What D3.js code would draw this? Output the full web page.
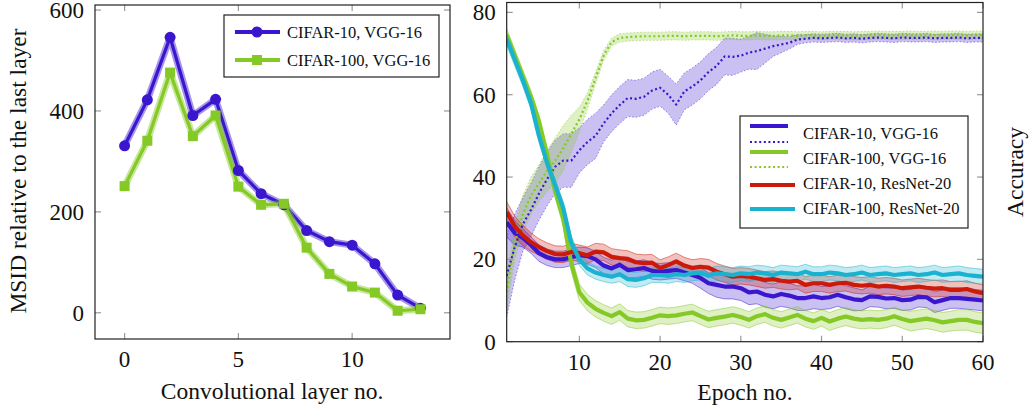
<!DOCTYPE html>
<meta charset="utf-8">
<title>MSID and accuracy</title>
<style>
body { margin: 0; background: #fff; }
svg text { font-family: "Liberation Serif", "Times New Roman", serif; fill: #111; }
.frame { fill: none; stroke: #222; stroke-width: 1.2px; }
.tick { stroke: #999; stroke-width: 1.2px; }
</style>
<svg width="1032" height="413"></svg>
<script src="https://d3js.org/d3.v7.min.js"></script>
<script>
// ---- left panel: MSID per conv layer ----
var layers = [0,1,2,3,4,5,6,7,8,9,10,11,12,13]
var msidC10 = [331,422,546,391,423,282,236,214,163,141,134,97,35,9]
var msidC100 = [251,341,476,350,391,250,214,216,129,77,52,40,4,7]
var leftXTicks = [0,5,10]
var leftYTicks = [0,200,400,600]

// ---- right panel: per-epoch curves (mean, half band width) ----
var epochs = d3.range(1, 61)
var c10vgg = [29,26.4,25.2,23.5,21.5,20.5,20,20,20.5,21,20.8,20,18.5,17.8,18.7,17.4,17.6,17.9,17.2,17,17.2,17.4,16.8,16.2,15.5,14.2,13.8,13.4,13.4,13,12,12.2,11.4,11,11.6,11.2,10.6,10.6,11,10.6,10.8,11.4,10.8,10.3,10.1,11,10.9,10.5,10.6,10.1,10.2,10.9,10.8,9.6,10.1,10.6,10.6,10.4,10.2,10]
var c10vggSd = [3.5,3,2.2,2,2,2,2,2,2,2,2,2,2,2,2,2,2,2,2,2,2,2,2,2,2.5,2.5,3,3,3,3,3,3,3,3,3,3,3,3,3,2.8,2.8,2.8,2.8,2.8,2.5,2.5,2.5,2.5,2.5,2.5,2.5,2.5,2.5,2.5,2.5,2.5,2.5,2.5,2.5,2.5]
var c10vggAcc = [16,23,28.5,32,36,39.5,42.5,44,44,46.5,48.5,50,53,55.5,57.5,59.2,59,59.5,61,61.7,60,57.6,60.8,62,63.5,65.5,67,69.3,69.2,69.5,70.2,70.6,71.2,71.8,72.2,72.6,73.4,73.6,73.8,73.7,73.8,73.9,73.7,73.8,73.6,73.8,73.9,73.8,73.7,73.9,73.8,73.8,73.9,73.7,73.8,73.8,73.9,73.7,73.8,73.8]
var c10vggAccSd = [10,8,6.5,6.5,6.5,6.5,6.5,6.5,6.5,5.5,5.5,5.5,4.5,4.5,4.5,4.5,4.5,4.5,4.5,4.5,4.5,5,4.5,4.5,4.5,4.5,4.5,4.5,4.5,4,4,4.5,3.5,2.5,2,1.5,1.2,1,1,1,1,1,1,1,1,1,1,1,1,1,1,1,1,1,1,1,1,1,1,1]
var c100vgg = [74.5,69.5,64.5,59.5,53.5,45.5,36.5,30,19,12,9.5,8,7,6.2,7.2,5.6,5.2,5.3,5.8,6.4,6.2,6.4,6.8,7.1,6.2,5.4,5.8,6.1,6.5,6,5.3,6.2,6.7,5.8,5.3,5.9,6.5,5.6,5,5.8,4.9,5.6,6.1,5.6,5.3,5.5,5.3,5.6,6.2,5.5,5,5.3,5.6,5.2,4.7,5,5.3,5.3,4.8,4.5]
var c100vggSd = [1.5,1.5,1.5,1.5,1.5,1.5,1.5,2,2,2,2,2,2,2,2,2,2,2,2,2,2,2,2,2,2,2,2,2,2,2,2,2,2,2,2,2,2,2,2,2,2.2,2.2,2.2,2.2,2.2,2.2,2.2,2.2,2.2,2.2,2.4,2.4,2.4,2.4,2.4,2.4,2.5,2.5,2.5,2.5]
var c100vggAcc = [12,24,31,35.5,38.5,41.5,44,47,50.5,54,58.5,64,69.5,72.8,73.8,74,74.1,74.2,74.2,74.2,74.3,74.3,74.2,74.3,74.3,74.3,74.2,74.3,74.4,74.3,74.3,74.4,74.3,74.3,74.4,74.4,74.3,74.4,74.4,74.3,74.4,74.4,74.4,74.3,74.4,74.4,74.5,74.4,74.4,74.4,74.5,74.4,74.4,74.5,74.4,74.5,74.5,74.4,74.5,74.5]
var c100vggAccSd = [4,4,4.5,4.5,4.5,5,5.5,5.5,4.5,3,2,1.5,1.2,1,1,1,1,1,1,1,1,1,1,1,1,1,1,1,1,1,1,1,1,1,1,1,1,1,1,1,1,1,1,1,1,1,1,1,1,1,1,1,1,1,1,1,1,1,1,1]
var c10res = [31.5,28,25.8,24.2,23,22,21.3,21.2,21.8,21.5,21,21.9,21.7,20.6,20.3,20.1,19.3,19.1,19.2,17.9,18.6,19.5,18.5,17.9,18.2,18,17,16.4,15.8,16,15.8,15.4,15,15.2,14.8,14.6,14.8,13.8,14.2,14.2,13.8,14.2,14.3,13.8,13.6,13.8,13.4,13.6,13.4,13,13.2,13.4,13.1,12.9,13,12.6,12.6,12.8,12.2,11.8]
var c10resSd = [2.5,2.5,2.5,2.2,2,2,2,2,2,2,2,2,2,2,2,2,2,2,2,2,2,2,2,2,2,2,2,2,2,2,2,2,2,2,2,2,2,2,2,2,2,2,2,2,2,2,2,2,2,2,2,2,2,2,2,2,2,2,2,2]
var c100res = [73.5,68.5,63.5,58,50,43.5,38,32.5,24,20,17.8,16.8,16.2,15.8,16.4,15.2,15,15.4,16.2,16.2,16,16.4,16.2,16.6,16.8,16,16.6,16.4,16.2,16.6,16.4,16.8,16.6,16.2,16.8,16.6,16.4,17,16.4,16.4,16.8,16.6,16.2,16.4,16.8,16.2,16.4,16.6,16.2,16.4,16.6,16.2,16.4,16.8,16.2,16.4,16.6,16.2,16,15.8]
var c100resSd = [1.5,1.5,1.5,1.5,1.5,1.5,1.5,1.5,1.5,1.5,1.6,1.6,1.6,1.6,1.8,1.8,1.8,1.8,1.8,1.8,1.8,1.8,1.8,1.8,1.8,1.8,1.8,1.8,1.8,1.8,1.8,1.8,1.8,1.8,1.8,1.8,1.8,1.8,1.8,1.8,1.8,1.8,1.8,1.8,1.8,1.8,1.8,1.8,1.8,1.8,1.8,1.8,1.8,1.8,1.8,1.8,1.8,1.8,1.8,1.8]
var rightXTicks = [10,20,30,40,50,60]
var rightYTicks = [0,20,40,60,80]

var BLUE = "#3a16cf", GREEN = "#84c926", RED = "#cc1a0a", CYAN = "#1ab3cf"

var svg = d3.select("svg")

function frame(g, x0, x1, y0, y1, xs, ys, xt, yt) {
	// tick marks inside the box on all four sides, pgfplots style
	xt.forEach(function(t) {
		g.append("line").attr("class", "tick").attr("x1", xs(t)).attr("x2", xs(t)).attr("y1", y1).attr("y2", y1 - 6)
		g.append("line").attr("class", "tick").attr("x1", xs(t)).attr("x2", xs(t)).attr("y1", y0).attr("y2", y0 + 6)
		g.append("text").attr("x", xs(t)).attr("y", y1 + 28).attr("text-anchor", "middle").attr("font-size", 23).text(t)
	})
	yt.forEach(function(t) {
		g.append("line").attr("class", "tick").attr("x1", x0).attr("x2", x0 + 6).attr("y1", ys(t)).attr("y2", ys(t))
		g.append("line").attr("class", "tick").attr("x1", x1).attr("x2", x1 - 6).attr("y1", ys(t)).attr("y2", ys(t))
		g.append("text").attr("x", x0 - 11).attr("y", ys(t)).attr("dy", "0.34em").attr("text-anchor", "end").attr("font-size", 23).text(t)
	})
	g.append("rect").attr("class", "frame").attr("x", x0).attr("y", y0).attr("width", x1 - x0).attr("height", y1 - y0)
}

// ===== left panel =====
var lx = d3.scaleLinear().domain([-1.3, 14.3]).range([95, 450])
var ly = d3.scaleLinear().domain([-52, 610]).range([339, 5])
var left = svg.append("g")

var lline = function(vals) {
	return d3.line().x(function(d, i) { return lx(layers[i]) }).y(function(d) { return ly(d) })(vals)
}

;[[msidC10, BLUE], [msidC100, GREEN]].forEach(function(s) {
	left.append("path").attr("d", lline(s[0])).attr("fill", "none").attr("stroke", s[1]).attr("stroke-opacity", 0.45).attr("stroke-width", 7).attr("stroke-linejoin", "round")
	left.append("path").attr("d", lline(s[0])).attr("fill", "none").attr("stroke", s[1]).attr("stroke-width", 3.2).attr("stroke-linejoin", "round")
})
left.selectAll("circle.m").data(msidC10).enter().append("circle")
	.attr("cx", function(d, i) { return lx(layers[i]) }).attr("cy", function(d) { return ly(d) })
	.attr("r", 5.5).attr("fill", BLUE)
left.selectAll("rect.m").data(msidC100).enter().append("rect")
	.attr("x", function(d, i) { return lx(layers[i]) - 5 }).attr("y", function(d) { return ly(d) - 5 })
	.attr("width", 10).attr("height", 10).attr("fill", GREEN)

frame(left, 95, 450, 5, 339, lx, ly, leftXTicks, leftYTicks)

left.append("text").attr("x", 272).attr("y", 399).attr("text-anchor", "middle").attr("font-size", 23.5).text("Convolutional layer no.")
left.append("text").attr("transform", "translate(26,171) rotate(-90)").attr("text-anchor", "middle").attr("font-size", 23.5).text("MSID relative to the last layer")

// left legend
var lg = left.append("g")
lg.append("rect").attr("x", 224).attr("y", 15).attr("width", 215).attr("height", 62).attr("fill", "#fff").attr("stroke", "#222").attr("stroke-width", 1.2)
lg.append("line").attr("x1", 235).attr("x2", 280).attr("y1", 32).attr("y2", 32).attr("stroke", BLUE).attr("stroke-width", 4)
lg.append("circle").attr("cx", 257).attr("cy", 32).attr("r", 5.5).attr("fill", BLUE)
lg.append("line").attr("x1", 235).attr("x2", 280).attr("y1", 60).attr("y2", 60).attr("stroke", GREEN).attr("stroke-width", 4)
lg.append("rect").attr("x", 252).attr("y", 55).attr("width", 10).attr("height", 10).attr("fill", GREEN)
lg.append("text").attr("x", 287).attr("y", 32).attr("dy", "0.35em").attr("font-size", 16.5).text("CIFAR-10, VGG-16")
lg.append("text").attr("x", 287).attr("y", 60).attr("dy", "0.35em").attr("font-size", 16.5).text("CIFAR-100, VGG-16")

// ===== right panel =====
var rx = d3.scaleLinear().domain([1, 60]).range([506.7, 983])
var ry = d3.scaleLinear().domain([0, 82.4]).range([341.7, 2.5])
var right = svg.append("g")

svg.append("clipPath").attr("id", "clipR").append("rect").attr("x", 506.7).attr("y", 2.5).attr("width", 983 - 506.7).attr("height", 341.7 - 2.5)
var plot = right.append("g").attr("clip-path", "url(#clipR)")

var series = [
	{ m: c10vgg, s: c10vggSd, c: BLUE, dot: false },
	{ m: c10vggAcc, s: c10vggAccSd, c: BLUE, dot: true },
	{ m: c100vgg, s: c100vggSd, c: GREEN, dot: false },
	{ m: c100vggAcc, s: c100vggAccSd, c: GREEN, dot: true },
	{ m: c10res, s: c10resSd, c: RED, dot: false },
	{ m: c100res, s: c100resSd, c: CYAN, dot: false }
]

var band = d3.area()
	.x(function(d, i) { return rx(epochs[i]) })
	.y0(function(d) { return ry(d[0] - d[1]) })
	.y1(function(d) { return ry(d[0] + d[1]) })
var edge = function(sign) {
	return d3.line().x(function(d, i) { return rx(epochs[i]) }).y(function(d) { return ry(d[0] + sign * d[1]) })
}
var mean = d3.line().x(function(d, i) { return rx(epochs[i]) }).y(function(d) { return ry(d) })

series.forEach(function(s) {
	var pairs = s.m.map(function(v, i) { return [v, s.s[i]] })
	plot.append("path").attr("d", band(pairs)).attr("fill", s.c).attr("fill-opacity", 0.27)
	;[1, -1].forEach(function(k) {
		plot.append("path").attr("d", edge(k)(pairs)).attr("fill", "none").attr("stroke", s.c).attr("stroke-opacity", 0.55).attr("stroke-width", 0.9)
			.attr("stroke-dasharray", s.dot ? "1.5 2" : null)
	})
})
series.forEach(function(s) {
	plot.append("path").attr("d", mean(s.m)).attr("fill", "none").attr("stroke", s.c)
		.attr("stroke-width", s.dot ? 2.2 : 4.2)
		.attr("stroke-dasharray", s.dot ? "2 2.6" : null)
		.attr("stroke-linejoin", "round")
})

frame(right, 506.7, 983, 2.5, 341.7, rx, ry, rightXTicks, rightYTicks)

right.append("text").attr("x", 745).attr("y", 400).attr("text-anchor", "middle").attr("font-size", 23.5).text("Epoch no.")
right.append("text").attr("transform", "translate(1023,172) rotate(-90)").attr("text-anchor", "middle").attr("font-size", 23.5).text("Accuracy")

// right legend
var rg = right.append("g")
rg.append("rect").attr("x", 740).attr("y", 116).attr("width", 228).attr("height", 112).attr("fill", "#fff").attr("stroke", "#222").attr("stroke-width", 1.2)
var legendLines = [
	{ y: 126, c: BLUE, dot: false, w: 38 },
	{ y: 142, c: BLUE, dot: true, w: 38 },
	{ y: 152, c: GREEN, dot: false, w: 38 },
	{ y: 167, c: GREEN, dot: true, w: 38 },
	{ y: 185, c: RED, dot: false, w: 45 },
	{ y: 209, c: CYAN, dot: false, w: 45 }
]
legendLines.forEach(function(l) {
	rg.append("line").attr("x1", 750).attr("x2", 750 + l.w).attr("y1", l.y).attr("y2", l.y)
		.attr("stroke", l.c).attr("stroke-width", l.dot ? 2.2 : 4.2).attr("stroke-dasharray", l.dot ? "2 2.6" : null)
})
var legendText = [["CIFAR-10, VGG-16", 133], ["CIFAR-100, VGG-16", 158], ["CIFAR-10, ResNet-20", 183], ["CIFAR-100, ResNet-20", 208]]
legendText.forEach(function(t) {
	rg.append("text").attr("x", 803).attr("y", t[1]).attr("dy", "0.35em").attr("font-size", 16.5).text(t[0])
})
</script>
